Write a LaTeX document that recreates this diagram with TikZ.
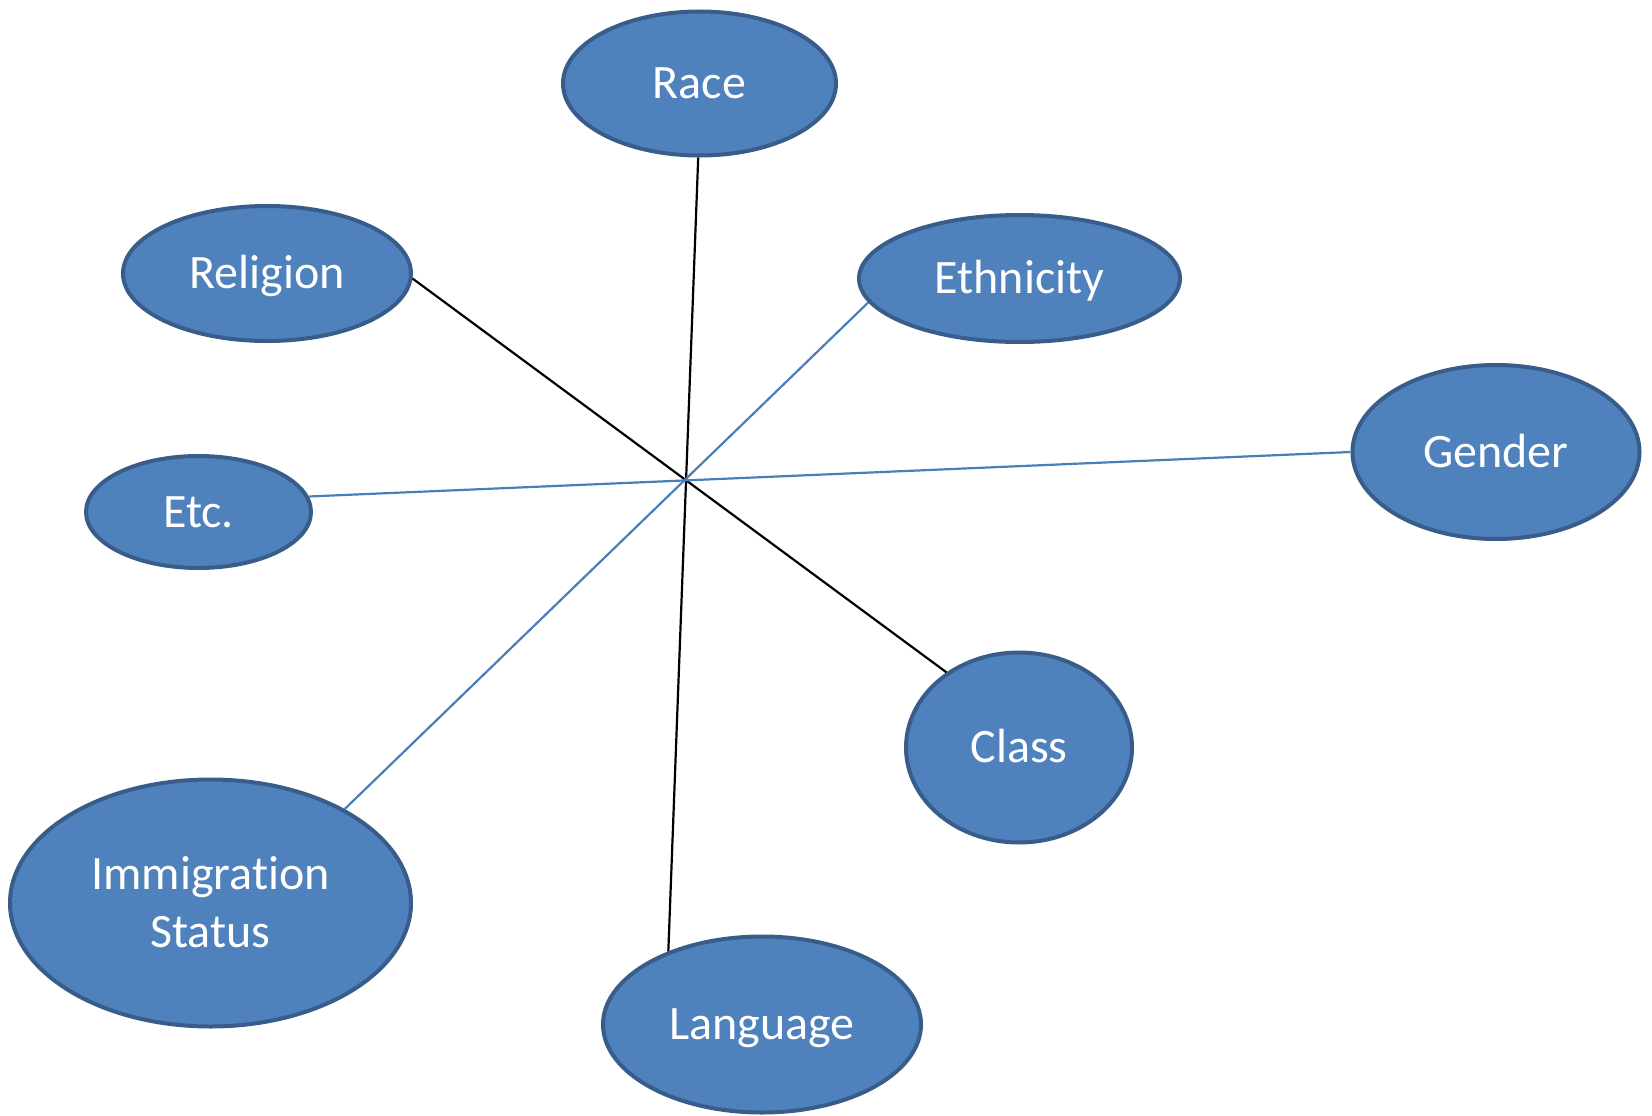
\documentclass[tikz,border=0pt]{standalone}
\usepackage{fontspec}
\setmainfont{Carlito}[Ligatures=NoCommon]
\usetikzlibrary{shapes.geometric}
\definecolor{fillblue}{HTML}{4F81BD}
\definecolor{edgeblue}{HTML}{385D8A}
\definecolor{lineblue}{HTML}{4A7EBB}
\begin{document}
\begin{tikzpicture}[x=1pt,y=-1pt,
  bubble/.style={ellipse, fill=fillblue, draw=edgeblue, line width=4pt, text=white,
    inner sep=0pt, font=\fontsize{48}{58}\selectfont, text height=30.9pt, text depth=0pt},
  blackline/.style={black, line width=2.2pt},
  blueline/.style={lineblue, line width=2.2pt}]
\useasboundingbox (0,0) rectangle (1652,1116);
\node[bubble, minimum width=273pt, minimum height=144pt] (race) at (699.5,83.5) {Race};
\node[bubble, minimum width=288pt, minimum height=135pt] (religion) at (267,273.5) {Religion};
\node[bubble, minimum width=321pt, minimum height=127pt] (ethnicity) at (1019.5,278.5) {Ethnicity};
\node[bubble, minimum width=287pt, minimum height=174pt] (gender) at (1496,452) {Gender};
\node[bubble, minimum width=225pt, minimum height=112pt] (etc) at (198.5,512) {Etc.};
\node[bubble, minimum width=226pt, minimum height=190pt] (class) at (1019,747.5) {Class};
\node[bubble, minimum width=401pt, minimum height=247pt, align=center, text height=88.9pt, text depth=0pt] (immigration) at (210.5,903) {Immigration\\Status};
\node[bubble, minimum width=318pt, minimum height=176pt] (language) at (762,1024.5) {Language};
\draw[blackline] (race.-91) -- (language.142);
\draw[blackline] (religion.-2) -- (class.134);
\draw[blueline] (ethnicity.-171.7) -- (immigration.35.8);
\draw[blueline] (etc.8) -- (gender.180);
\end{tikzpicture}
\end{document}
